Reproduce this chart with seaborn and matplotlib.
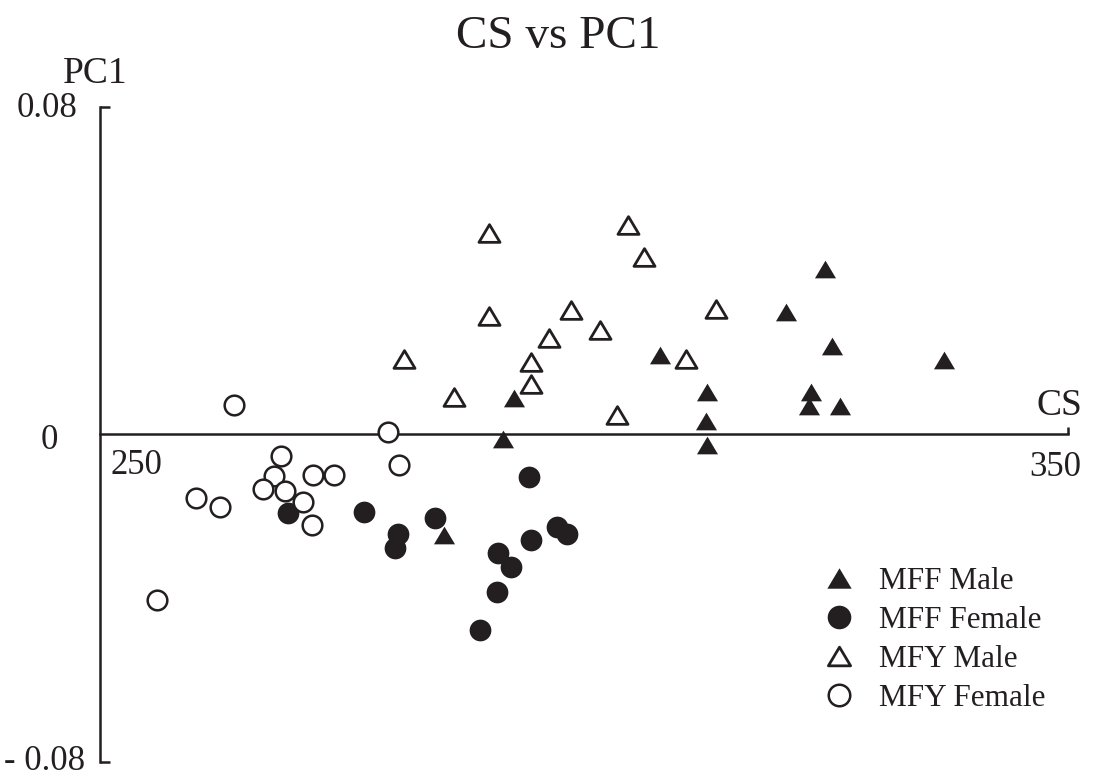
import numpy as np
import pandas as pd
import seaborn as sns
import matplotlib.pyplot as plt
from matplotlib.path import Path
from matplotlib.lines import Line2D

# CS / PC1 values
mff_male_cs = [324.9, 320.9, 325.6, 337.2, 323.4, 323.2, 326.4, 307.8, 312.7, 312.6, 312.7, 292.8, 291.6, 285.5]
mff_male_pc1 = [0.0404, 0.0299, 0.0215, 0.0181, 0.0104, 0.0070, 0.0070, 0.0193, 0.0104, 0.0033, -0.0026, 0.0088, -0.0012, -0.0246]

mff_female_cs = [269.4, 277.3, 280.8, 280.5, 284.6, 294.3, 297.2, 298.2, 294.5, 291.1, 292.5, 291.0, 289.3]
mff_female_pc1 = [-0.0193, -0.0190, -0.0244, -0.0277, -0.0205, -0.0104, -0.0227, -0.0245, -0.0258, -0.0291, -0.0325, -0.0385, -0.0478]

mfy_male_cs = [290.2, 304.5, 306.2, 290.2, 298.7, 296.4, 301.7, 281.4, 294.5, 294.5, 286.6, 303.4, 313.6, 310.5]
mfy_male_pc1 = [0.0491, 0.0511, 0.0434, 0.0289, 0.0303, 0.0235, 0.0255, 0.0184, 0.0177, 0.0122, 0.0092, 0.0047, 0.0305, 0.0184]

mfy_female_cs = [263.8, 279.8, 268.7, 268.0, 272.0, 274.2, 266.8, 269.1, 271.0, 259.9, 262.4, 271.9, 280.9, 255.9]
mfy_female_pc1 = [0.0071, 0.0006, -0.0053, -0.0102, -0.0100, -0.0100, -0.0135, -0.0138, -0.0166, -0.0157, -0.0177, -0.0222, -0.0076, -0.0405]

groups = ['MFF Male', 'MFF Female', 'MFY Male', 'MFY Female']

df = pd.concat([
    pd.DataFrame({'CS': mff_male_cs, 'PC1': mff_male_pc1, 'group': groups[0]}),
    pd.DataFrame({'CS': mff_female_cs, 'PC1': mff_female_pc1, 'group': groups[1]}),
    pd.DataFrame({'CS': mfy_male_cs, 'PC1': mfy_male_pc1, 'group': groups[2]}),
    pd.DataFrame({'CS': mfy_female_cs, 'PC1': mfy_female_pc1, 'group': groups[3]}),
])

sns.set_theme(style='white')
plt.rcParams['font.family'] = ['Liberation Serif', 'DejaVu Serif']

ink = '#231f20'
# wider-than-tall triangle, closed so the open one gets all three sides
tri = Path([(-1, -0.84), (1, -0.84), (0, 0.84), (-1, -0.84)], closed=True)

# marker, face, size in plot, size in legend (pt), edge width
styles = {
    'MFF Male': (tri, ink, 230, 17.5, 0),
    'MFF Female': ('o', ink, 245, 17.0, 0),
    'MFY Male': (tri, 'white', 230, 16.0, 2.0),
    'MFY Female': ('o', 'white', 200, 15.5, 1.8),
}

fig = plt.figure(figsize=(10.98, 7.8), dpi=100)
ax = fig.add_axes([100 / 1098, 18.3 / 780, 968 / 1098, 655 / 780])

handles = []
for g in groups:
    m, fc, s, ms, lw = styles[g]
    sub = df[df['group'] == g]
    sns.scatterplot(data=sub, x='CS', y='PC1', marker=m, s=s, color=fc,
                    edgecolor=ink, linewidth=lw, ax=ax, clip_on=False, zorder=3)
    handles.append(Line2D([], [], linestyle='none', marker=m, markersize=ms,
                          markerfacecolor=fc, markeredgecolor=ink,
                          markeredgewidth=lw, label=g))

ax.set_xlim(250, 350)
ax.set_ylim(-0.08, 0.08)
ax.set_xlabel('')
ax.set_ylabel('')

for side in ['top', 'right']:
    ax.spines[side].set_visible(False)
ax.spines['bottom'].set_position(('data', 0))
ax.spines['bottom'].set_bounds(250, 350)
ax.spines['left'].set_bounds(-0.08, 0.08)
for side in ['left', 'bottom']:
    ax.spines[side].set_color(ink)
    ax.spines[side].set_linewidth(1.8)

ax.set_xticks([350])
ax.set_yticks([-0.08, 0.08])
ax.set_xticklabels([])
ax.set_yticklabels([])
ax.tick_params(axis='y', direction='in', length=7.5, width=1.8, color=ink, left=True)
ax.tick_params(axis='x', direction='in', length=5, width=1.8, color=ink, bottom=True)

fs = 25
ax.annotate('0.08', xy=(250, 0.08), xytext=(-22, -2), textcoords='offset pixels',
            ha='right', va='center', fontsize=fs, color=ink)
ax.annotate('- 0.08', xy=(250, -0.08), xytext=(-15, 0), textcoords='offset pixels',
            ha='right', va='center', fontsize=fs, color=ink)
ax.annotate('0', xy=(250, 0), xytext=(-42, -6), textcoords='offset pixels',
            ha='right', va='center', fontsize=fs, color=ink)
ax.annotate('250', xy=(250, 0), xytext=(36, -40), textcoords='offset pixels',
            ha='center', va='baseline', fontsize=fs, color=ink)
ax.annotate('350', xy=(350, 0), xytext=(-13, -42), textcoords='offset pixels',
            ha='center', va='baseline', fontsize=fs, color=ink)
ax.annotate('CS', xy=(350, 0), xytext=(-32, 19), textcoords='offset pixels',
            ha='left', va='baseline', fontsize=27, color=ink)
ax.annotate('PC1', xy=(250, 0.08), xytext=(-37, 24), textcoords='offset pixels',
            ha='left', va='baseline', fontsize=27, color=ink)

fig.text(558 / 1098, 1 - 48 / 780, 'CS vs PC1', ha='center', va='baseline',
         fontsize=34, color=ink)

ax.legend(handles=handles, loc='upper left', bbox_to_anchor=(823 / 1098, 1 - 567 / 780),
          bbox_transform=fig.transFigure, frameon=False, fontsize=22.5,
          handlelength=1.0, handletextpad=0.8, labelspacing=0.32,
          borderpad=0, borderaxespad=0, labelcolor=ink)

fig.savefig('out.png', dpi=100)
